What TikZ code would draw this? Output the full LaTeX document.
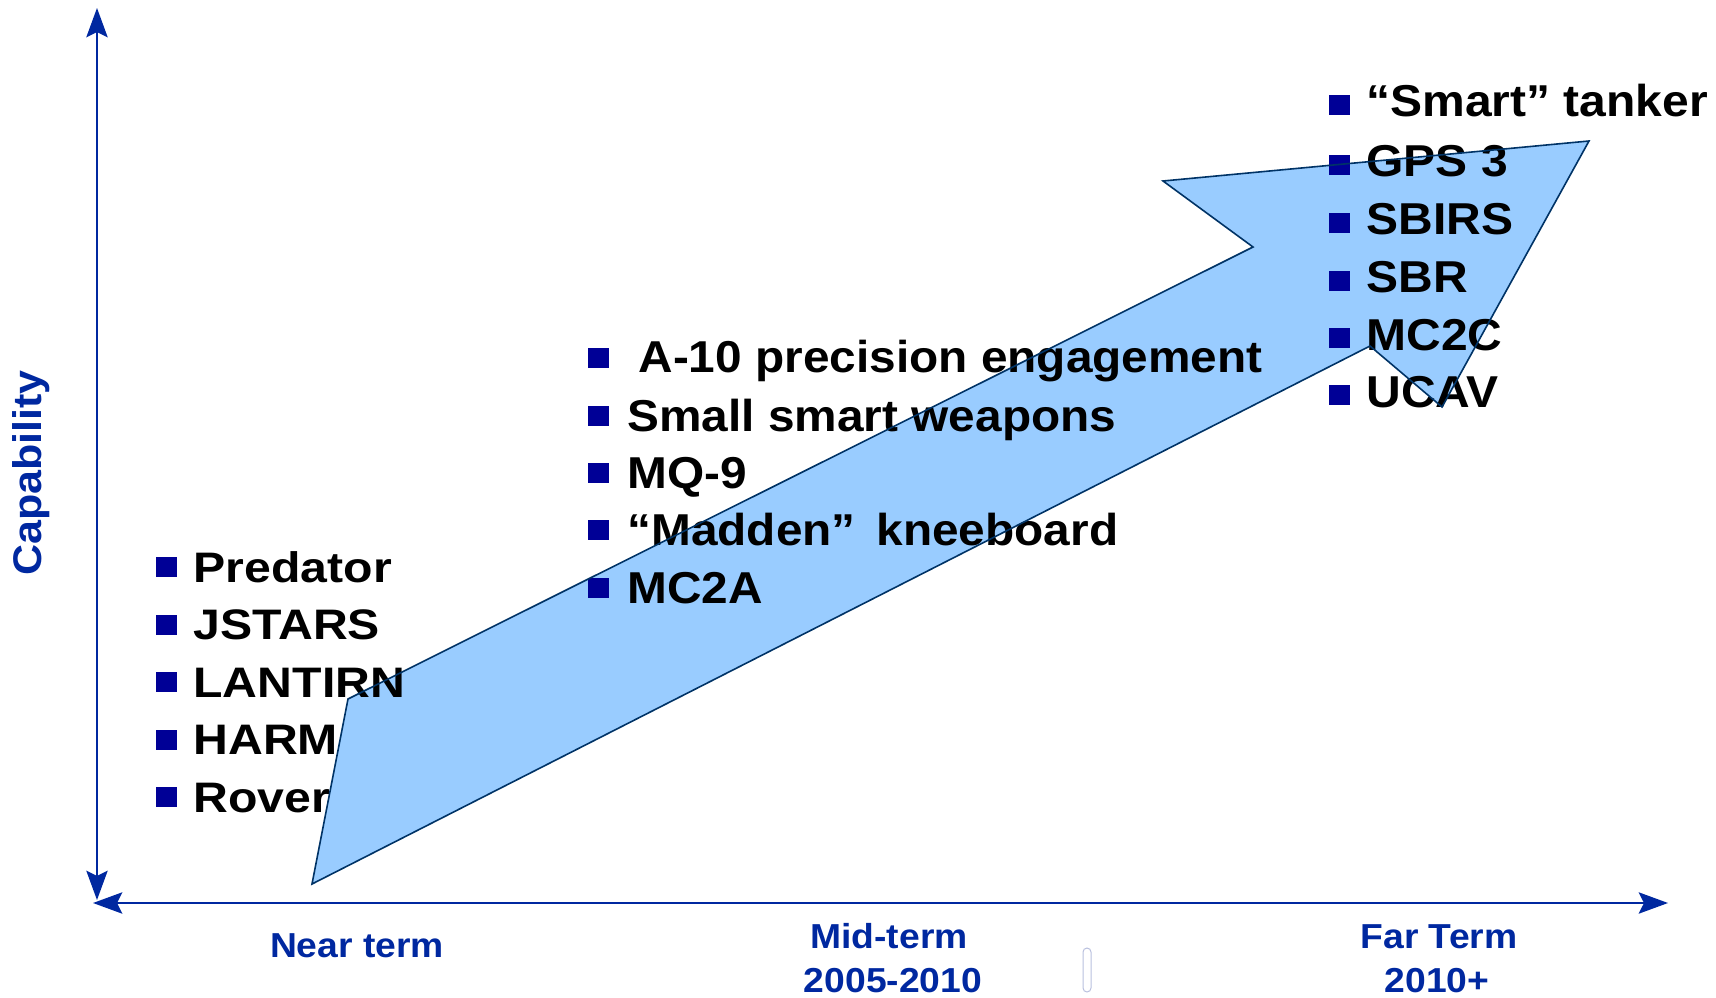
\documentclass[tikz,border=0pt]{standalone}
\usepackage{fontspec}
\setmainfont{Liberation Sans}[FakeStretch=1.075]
\newfontfamily\leftfont{Liberation Sans}[FakeStretch=1.13]
\newfontfamily\midfont{Liberation Sans}[FakeStretch=1.07]
\usetikzlibrary{arrows.meta}

\definecolor{axisblue}{RGB}{0,40,160}
\definecolor{bulletblue}{RGB}{0,0,150}
\definecolor{arrowfill}{RGB}{153,204,255}
\definecolor{arrowline}{RGB}{0,51,102}
\definecolor{faintbox}{RGB}{185,192,222}

\tikzset{every picture/.style={line width=0.75pt}}
\tikzset{
  axis/.style={draw=axisblue, line width=1.5pt,
    {Stealth[length=22pt,width=16pt,inset=4pt]}-{Stealth[length=22pt,width=16pt,inset=4pt]}},
  axislabel/.style={text=axisblue, font=\bfseries\fontsize{26}{31}\selectfont, inner sep=0pt, anchor=base},
  nearitem/.style={font=\leftfont\bfseries\fontsize{32}{38}\selectfont, inner sep=0pt, anchor=base west},
  miditem/.style={font=\midfont\bfseries\fontsize{33.5}{40}\selectfont, inner sep=0pt, anchor=base west},
  faritem/.style={font=\bfseries\fontsize{33.5}{40}\selectfont, inner sep=0pt, anchor=base west},
  bullet/.style={fill=bulletblue, inner sep=0pt, minimum width=15.75pt, minimum height=15pt},
}

\begin{document}
\begin{tikzpicture}[x=0.75pt,y=0.75pt,yscale=-1,xscale=1]
\useasboundingbox (0,0) rectangle (1716,998);

%Shape: Big arrow, fill only
\fill [arrowfill] (312,884) -- (348,699) -- (1253,247) -- (1163,181) -- (1589,141) -- (1442,407) -- (1370,346) -- cycle ;

% Axes
\coordinate (ytop) at (97,8);
\coordinate (ybot) at (97,900);
\coordinate (xleft) at (93,903);
\coordinate (xright) at (1668,903);
\draw [axis] (ybot) -- (ytop);
\draw [axis] (xleft) -- (xright);

% Text Node
\node (capability) [rotate=90, text=axisblue, font=\bfseries\fontsize{30}{36}\selectfont, inner sep=0pt] at (31,473) {Capability};

% Text Node
\node (nearterm) [axislabel] at (357,957) {Near term};
% Text Node
\node (midterm) [axislabel] at (889,948) {Mid-term};
% Text Node
\node (midyears) [axislabel] at (893,992) {2005-2010};
% Text Node
\node (farterm) [axislabel] at (1439,948) {Far Term};
% Text Node
\node (faryears) [axislabel] at (1437,992) {2010+};

%Shape: Rounded Rectangle
\draw [faintbox, line width=0.75pt, rounded corners=3pt] (1083,948) rectangle (1091,992) ;

% Near term list
\node (bpredator) [bullet] at (166.5,567) {};
\node (predator) [nearitem] at (193,582) {Predator};
\node (bjstars) [bullet] at (166.5,624.5) {};
\node (jstars) [nearitem] at (193,639.5) {JSTARS};
\node (blantirn) [bullet] at (166.5,682) {};
\node (lantirn) [nearitem] at (193,697) {LANTIRN};
\node (bharm) [bullet] at (166.5,739.5) {};
\node (harm) [nearitem] at (193,754.5) {HARM};
\node (brover) [bullet] at (166.5,797) {};
\node (rover) [nearitem] at (193,812) {Rover};

% Mid-term list
\node (ba10) [bullet] at (598,358) {};
\node (a10) [miditem] at (638,373) {A-10 precision engagement};
\node (bsmall) [bullet] at (598,416) {};
\node (small) [miditem] at (627,431) {Small smart weapons};
\node (bmq9) [bullet] at (598,473) {};
\node (mq9) [miditem] at (627,488) {MQ-9};
\node (bmadden) [bullet] at (598,530) {};
\node (madden) [miditem] at (627,545) {“Madden”\ \,kneeboard};
\node (bmc2a) [bullet] at (598,588) {};
\node (mc2a) [miditem] at (627,603) {MC2A};

% Far term list
\node (bsmart) [bullet] at (1339.5,105) {};
\node (smart) [faritem] at (1366,117) {“Smart”\ tanker};
\node (bgps) [bullet] at (1339.5,165) {};
\node (gps) [faritem] at (1366,177) {GPS 3};
\node (bsbirs) [bullet] at (1339.5,223) {};
\node (sbirs) [faritem] at (1366,235) {SBIRS};
\node (bsbr) [bullet] at (1339.5,281) {};
\node (sbr) [faritem] at (1366,293) {SBR};
\node (bmc2c) [bullet] at (1339.5,338) {};
\node (mc2c) [faritem] at (1366,350) {MC2C};
\node (bucav) [bullet] at (1339.5,395) {};
\node (ucav) [faritem] at (1366,407) {UCAV};

%Shape: Big arrow, outline over the text
\draw [arrowline, line width=1.2pt, line join=miter] (312,884) -- (348,699) -- (1253,247) -- (1163,181) -- (1589,141) -- (1442,407) -- (1370,346) -- cycle ;

\end{tikzpicture}
\end{document}
